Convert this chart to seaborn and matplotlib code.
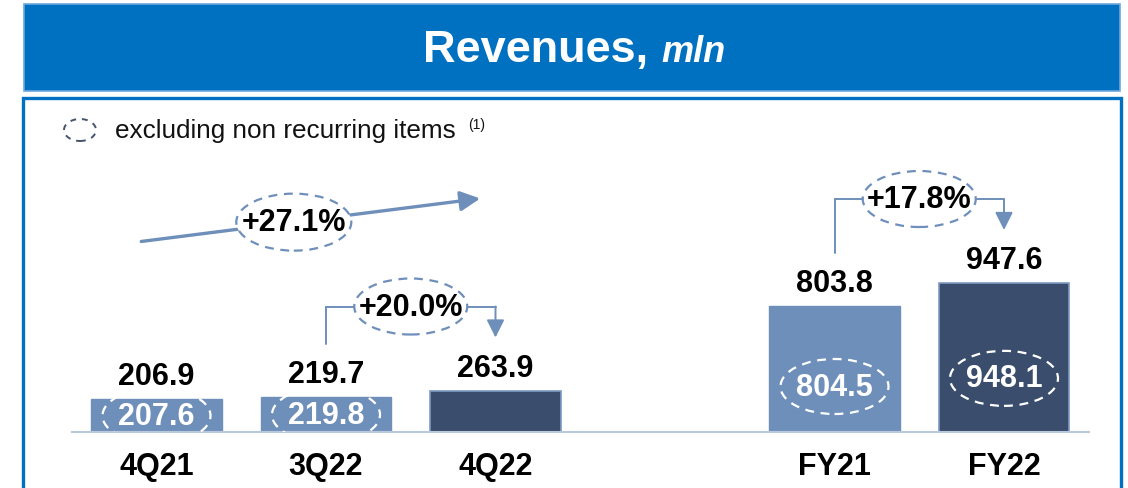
import numpy as np
import pandas as pd
import matplotlib
matplotlib.use("Agg")
import matplotlib.pyplot as plt
import seaborn as sns
from matplotlib.patches import Ellipse, Rectangle

# data
periods = ["4Q21", "3Q22", "4Q22", "FY21", "FY22"]
revenues = [206.9, 219.7, 263.9, 803.8, 947.6]
revenues_excl_nri = [207.6, 219.8, np.nan, 804.5, 948.1]
bar_kind = ["prior", "prior", "current", "prior", "current"]
growth_labels = ["+27.1%", "+20.0%", "+17.8%"]

# category order with an empty slot between quarters and full years
order = ["4Q21", "3Q22", "4Q22", " ", "FY21", "FY22"]

LIGHT = "#6F8FBB"
DARK = "#3A4D6D"
BLUE = "#0070C0"
DASH_DARK = "#44546A"

W, H, DPI = 1128, 489, 100
AX_LEFT, AX_BOTTOM, AX_W, AX_H = 71.75, 56, 1017, 333
Y_TOP = 2118.0
SLOT_PX = AX_W / len(order)


def px(n):
    """vertical pixels -> data units"""
    return n * Y_TOP / AX_H


def pxx(n):
    """horizontal pixels -> category units"""
    return n / SLOT_PX


sns.set_theme(style="white")
plt.rcParams["font.family"] = ["Liberation Sans", "DejaVu Sans"]

fig = plt.figure(figsize=(W / DPI, H / DPI), dpi=DPI)

# header banner
fig.patches.append(Rectangle((24 / W, 1 - 92 / H), 1096 / W, 87 / H,
                             transform=fig.transFigure, facecolor=BLUE,
                             edgecolor="#6AA8DE", lw=1.2))
fig.text(648 / W, 1 - 62 / H, "Revenues,", ha="right", va="baseline",
         fontsize=32.5, weight="bold", color="white")
fig.text(661 / W, 1 - 62 / H, "mln", ha="left", va="baseline",
         fontsize=26, weight="bold", style="italic", color="white")

# content frame
fig.patches.append(Rectangle((22.5 / W, -0.1), 1098 / W, 0.1 + 1 - 99 / H,
                             transform=fig.transFigure, facecolor="none",
                             edgecolor=BLUE, lw=2.4))

# legend
fig.patches.append(Ellipse((80 / W, 1 - 131 / H), 32 / W, 22 / H,
                           transform=fig.transFigure, facecolor="none",
                           edgecolor=DASH_DARK, lw=1.4, ls=(0, (3, 3))))
fig.text(115 / W, 1 - 131 / H, "excluding non recurring items", ha="left",
         va="center", fontsize=18.8, color="#111111")
fig.text(468 / W, 1 - 125 / H, "(1)", ha="left", va="center",
         fontsize=10, color="#111111")

ax = fig.add_axes([AX_LEFT / W, AX_BOTTOM / H, AX_W / W, AX_H / H])
ax.patch.set_alpha(0)

df = pd.DataFrame({"period": periods, "revenue": revenues, "kind": bar_kind})
sns.barplot(data=df, x="period", y="revenue", hue="kind", order=order,
            palette={"prior": LIGHT, "current": DARK}, width=0.77,
            dodge=False, errorbar=None, legend=False, saturation=1, ax=ax)

for bar in ax.patches:
    if np.allclose(bar.get_facecolor()[:3], matplotlib.colors.to_rgb(DARK),
                   atol=0.02):
        bar.set_edgecolor("#7D9AC2")
        bar.set_linewidth(1.2)
    else:
        bar.set_edgecolor(LIGHT)

ax.set_xlim(-0.5, len(order) - 0.5)
ax.set_ylim(0, Y_TOP)
ax.set_xlabel("")
ax.set_ylabel("")
ax.set_yticks([])
for side in ["left", "right", "top"]:
    ax.spines[side].set_visible(False)
ax.spines["bottom"].set_color("#B9C8DB")
ax.spines["bottom"].set_linewidth(1.5)
ax.tick_params(axis="x", length=0, pad=14, labelsize=22)
for lab in ax.get_xticklabels():
    lab.set_fontweight("bold")
    lab.set_color("black")

# value labels above / inside bars
for p, v, ex in zip(periods, revenues, revenues_excl_nri):
    x = order.index(p)
    ax.annotate(f"{v:.1f}", (x, v), xytext=(0, 23), textcoords="offset pixels",
                ha="center", va="center", fontsize=22, weight="bold",
                color="black", zorder=6)
    if not np.isnan(ex):
        y_in = v * (0.5 if v < 500 else 0.36)
        ax.add_patch(Ellipse((x, y_in), pxx(108), px(55), facecolor="none",
                             edgecolor="white", lw=1.6, ls=(0, (4, 3)),
                             zorder=4))
        ax.text(x, y_in, f"{ex:.1f}", ha="center", va="center", fontsize=22,
                weight="bold", color="white", zorder=5)


def bubble(x, y, label, w=113, h=56):
    ax.add_patch(Ellipse((x, y), pxx(w), px(h), facecolor="white",
                         edgecolor=LIGHT, lw=1.6, ls=(0, (4, 3)), zorder=7,
                         clip_on=False))
    ax.text(x, y, label, ha="center", va="center", fontsize=22,
            weight="bold", color="black", zorder=8, clip_on=False)


def bracket(i0, i1, label):
    x0, x1 = order.index(periods[i0]), order.index(periods[i1])
    y_start = revenues[i0] + px(53)
    y_level = revenues[i1] + px(84)
    y_tip = revenues[i1] + px(53)
    ax.plot([x0, x0, x1], [y_start, y_level, y_level], color=LIGHT, lw=1.4,
            zorder=3, solid_joinstyle="miter")
    ax.annotate("", xy=(x1, y_tip), xytext=(x1, y_level),
                arrowprops=dict(arrowstyle="-|>,head_length=0.9,head_width=0.45",
                                color=LIGHT, lw=1.4, shrinkA=0, shrinkB=0),
                zorder=3)
    bubble((x0 + x1) / 2, y_level, label)


# year-on-year quarter arrow
xa0, xa1 = -0.09, 1.91
ya0, ya1 = revenues[0] + px(158), revenues[2] + px(192)
ax.annotate("", xy=(xa1, ya1), xytext=(xa0, ya0),
            arrowprops=dict(arrowstyle="-|>,head_length=1.0,head_width=0.5",
                            color=LIGHT, lw=2.4, shrinkA=0, shrinkB=0),
            zorder=3)
xb = 0.81
bubble(xb, ya0 + (ya1 - ya0) * (xb - xa0) / (xa1 - xa0), growth_labels[0],
       w=115, h=57)

bracket(1, 2, growth_labels[1])
bracket(3, 4, growth_labels[2])

fig.savefig("out.png", dpi=DPI)
